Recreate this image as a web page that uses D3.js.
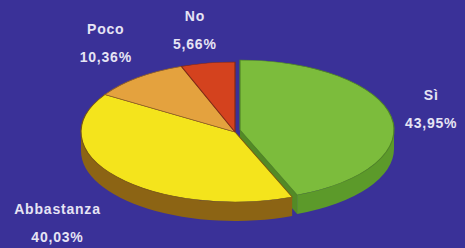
<!DOCTYPE html>
<html lang="it">
<head>
    <meta charset="UTF-8">
    <title>Torta 3D</title>
    <script src="https://cdn.jsdelivr.net/npm/d3@7"></script>
    <style>
        html, body { margin: 0; padding: 0; background: #3a3198; }
        #chart { display: block; }
    </style>
</head>
<body>
    <svg id="chart" width="465" height="248"></svg>

    <script>
        // dati
        const categories = ["Sì", "Abbastanza", "Poco", "No"];
        const values = [43.95, 40.03, 10.36, 5.66];
        const topColors = ["#7cbc3c", "#f4e41c", "#e4a23e", "#d4421e"];
        const sideColors = ["#5c9a2a", "#8c6414", "#a8702a", "#96301a"];

        const width = 465, height = 248;
        const cx = 235, cy = 132, rx = 154, ry = 70, depth = 19;
        // spostamento della fetta esplosa (Sì)
        const explode = [{ dx: 5, dy: -2 }, { dx: 0, dy: 0 }, { dx: 0, dy: 0 }, { dx: 0, dy: 0 }];
        // piccoli aggiustamenti per le etichette
        const labelNudge = [{ dx: -10, dy: -2 }, { dx: -16, dy: 2 }, { dx: 3, dy: -4 }, { dx: -3, dy: 6 }];

        const svg = d3.select("#chart");
        svg.append("rect").attr("width", width).attr("height", height).attr("fill", "#3a3198");

        const color = d3.scaleOrdinal().domain(categories).range(topColors);
        const side = d3.scaleOrdinal().domain(categories).range(sideColors);

        const pie = d3.pie().sort(null).value(d => d.value);
        const slices = pie(categories.map((c, i) => ({ name: c, value: values[i], i })));

        const pt = (a, ox, oy, dz) => [cx + ox + rx * Math.sin(a), cy + oy - ry * Math.cos(a) + (dz || 0)];

        const g = svg.append("g");

        // pareti di taglio visibili (fine di una fetta rivolta verso chi guarda)
        slices.forEach(s => {
            const o = explode[s.data.i];
            const a = s.endAngle;
            if (Math.cos(a) < 0 && Math.sin(a) > 0) {
                const p = pt(a, o.dx, o.dy);
                const c0 = [cx + o.dx, cy + o.dy];
                g.append("path")
                    .attr("d", `M${c0} L${p} L${p[0]},${p[1] + depth} L${c0[0]},${c0[1] + depth} Z`)
                    .attr("fill", d3.color(side(s.data.name)).darker(0.3));
            }
        });

        // pareti esterne (metà frontale)
        slices.forEach(s => {
            const o = explode[s.data.i];
            const a0 = Math.max(s.startAngle, Math.PI / 2);
            const a1 = Math.min(s.endAngle, Math.PI * 3 / 2);
            if (a1 <= a0) return;
            const p0 = pt(a0, o.dx, o.dy), p1 = pt(a1, o.dx, o.dy);
            const d = `M${p0} A${rx},${ry} 0 0 1 ${p1} L${p1[0]},${p1[1] + depth} ` +
                `A${rx},${ry} 0 0 0 ${p0[0]},${p0[1] + depth} Z`;
            g.append("path").attr("d", d).attr("fill", side(s.data.name));
        });

        // facce superiori
        const arc = d3.arc().innerRadius(0).outerRadius(rx);
        slices.forEach(s => {
            const o = explode[s.data.i];
            g.append("g")
                .attr("transform", `translate(${cx + o.dx},${cy + o.dy}) scale(1,${ry / rx})`)
                .append("path")
                .attr("d", arc(s))
                .attr("fill", color(s.data.name))
                .attr("stroke", d3.color(side(s.data.name)).darker(0.4))
                .attr("stroke-width", 1.2);
        });

        // etichette
        const it = d3.formatLocale({ decimal: ",", thousands: ".", grouping: [3], currency: ["", "€"] });
        const fmt = it.format(".2f");
        const labels = svg.append("g")
            .attr("font-family", "Liberation Sans, Arial, sans-serif")
            .attr("font-weight", "bold")
            .attr("font-size", 14)
            .attr("letter-spacing", 0.8)
            .attr("fill", "#e6e4f4")
            .attr("text-anchor", "middle");

        slices.forEach(s => {
            const mid = (s.startAngle + s.endAngle) / 2;
            const n = labelNudge[s.data.i];
            const x = cx + 210 * Math.sin(mid) + n.dx;
            const y = cy - 110 * Math.cos(mid) + (Math.cos(mid) < 0 ? depth : 0) + n.dy;
            labels.append("text").attr("x", x).attr("y", y - 9).text(s.data.name);
            labels.append("text").attr("x", x).attr("y", y + 19).text(fmt(s.data.value) + "%");
        });
    </script>
</body>
</html>
